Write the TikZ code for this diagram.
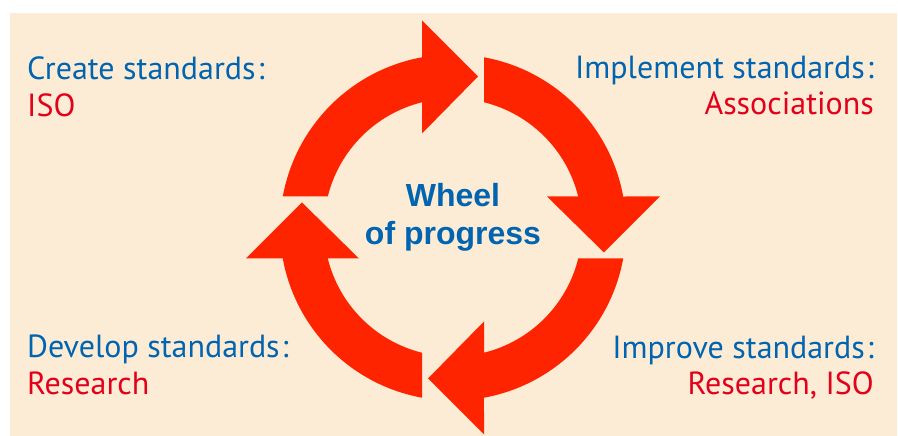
\documentclass[tikz,border=0pt]{standalone}
\usepackage{fontspec}
\setmainfont{PT Sans}
\newfontfamily\hubfont{Liberation Sans}
\usepackage{tikz}
\usetikzlibrary{arrows.meta}

\definecolor{paper}{RGB}{253,236,213}
\definecolor{wheelred}{RGB}{255,36,0}
\definecolor{stdblue}{RGB}{0,100,176}
\definecolor{stdred}{RGB}{226,0,26}

\begin{document}
\begin{tikzpicture}[x=1pt,y=1pt]
	\tikzstyle{every node}=[inner sep=0pt]
	\tikzstyle{head}=[stdblue, font=\fontsize{32}{36}\selectfont]
	\tikzstyle{who}=[stdred, font=\fontsize{32}{36}\selectfont]
	\tikzstyle{hub}=[stdblue, font=\hubfont\fontsize{32}{38}\bfseries\selectfont, anchor=base]
	
	%%page and paper
	\useasboundingbox (0.0000,0.0000) rectangle (898.0000,436.0000);
	\fill [paper]  (10.0000,0.0000) rectangle (897.0000,423.0000);
	
	%%four arc arrows round the hub, each turned a quarter further
	\foreach \i in {0,1,2,3}{
		\fill [wheelred, shift={(453.0000,208.5000)}, rotate=-90*\i]
			(-125.2000,31.0000) -- (-170.2000,31.0000)
			arc [start angle=169.68, end angle=100.32, radius=173.0000]
			-- (-31.0000,207.0000) -- (25.0000,151.0000) -- (-31.0000,94.0000)
			-- (-31.0000,125.2000)
			arc [start angle=103.90, end angle=166.10, radius=129.0000]
			-- cycle;
	}
	
	%%hub text
	\node [hub] (wheel) at (453.0000,229.0000) {Wheel};
	\node [hub] (progress) at (453.0000,191.0000) {of progress};
	
	%%corner labels
	\node [head, anchor=base west] (create) at (27.0000,356.0000) {Create standards\kern2pt:};
	\node [who, anchor=base west] (createwho) at (27.0000,319.0000) {ISO};
	\node [head, anchor=base east] (implement) at (874.0000,357.0000) {Implement standards\kern2pt:};
	\node [who, anchor=base east] (implementwho) at (874.0000,321.0000) {Associations};
	\node [head, anchor=base west] (develop) at (27.0000,78.0000) {Develop standards\kern2pt:};
	\node [who, anchor=base west] (developwho) at (27.0000,41.0000) {Research};
	\node [head, anchor=base east] (improve) at (874.0000,77.0000) {Improve standards\kern2pt:};
	\node [who, anchor=base east] (improvewho) at (874.0000,41.0000) {Research, ISO};

\end{tikzpicture}
\end{document}
